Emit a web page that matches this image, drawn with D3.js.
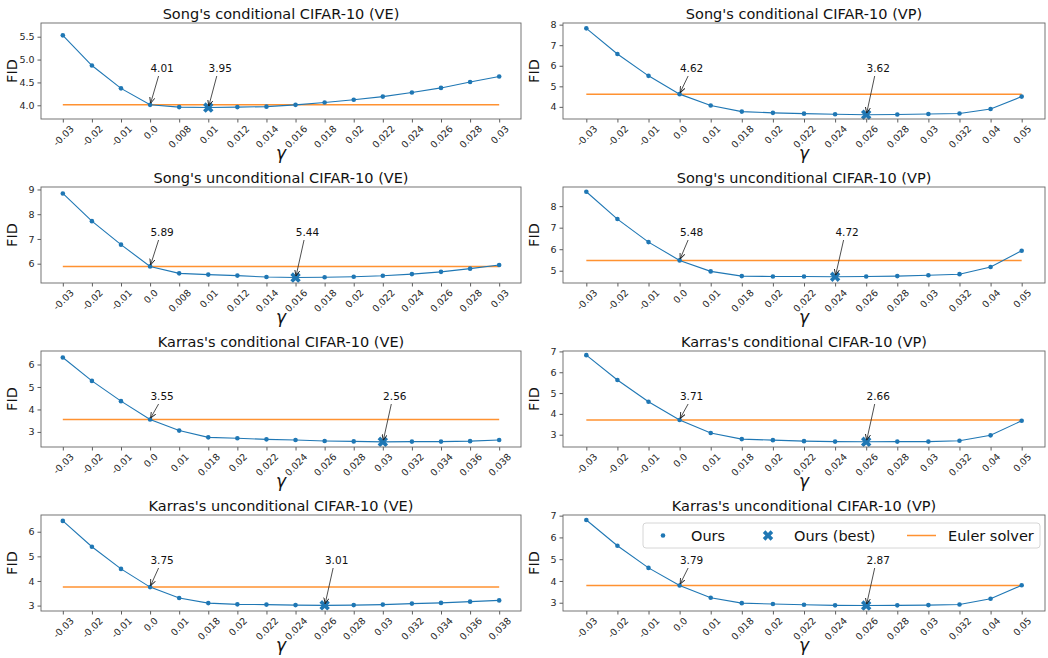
<!DOCTYPE html>
<html>
<head>
<meta charset="utf-8">
<script src="https://cdn.jsdelivr.net/npm/d3@7"></script>
<style>
    body { margin: 0; background: #fff; }
    text { font-family: "DejaVu Sans", sans-serif; }
</style>
</head>
<body>
<svg id="chart" width="1048" height="658"></svg>
<script>
// gamma values on the x axis (categorical)
var gammaSongVE = ['-0.03', '-0.02', '-0.01', '0.0', '0.008', '0.01', '0.012', '0.014', '0.016', '0.018', '0.02', '0.022', '0.024', '0.026', '0.028', '0.03'];
var gammaVP = ['-0.03', '-0.02', '-0.01', '0.0', '0.01', '0.018', '0.02', '0.022', '0.024', '0.026', '0.028', '0.03', '0.032', '0.04', '0.05'];
var gammaKarrasVE = ['-0.03', '-0.02', '-0.01', '0.0', '0.01', '0.018', '0.02', '0.022', '0.024', '0.026', '0.028', '0.03', '0.032', '0.034', '0.036', '0.038'];

// FID values ("Ours")
var fidSongCondVE = [5.53, 4.87, 4.37, 4.01, 3.96, 3.95, 3.96, 3.97, 4.01, 4.06, 4.12, 4.19, 4.28, 4.38, 4.51, 4.63];
var fidSongCondVP = [7.82, 6.57, 5.51, 4.62, 4.07, 3.77, 3.71, 3.67, 3.64, 3.62, 3.63, 3.65, 3.68, 3.90, 4.50];
var fidSongUncondVE = [8.84, 7.72, 6.77, 5.89, 5.61, 5.56, 5.52, 5.46, 5.44, 5.45, 5.47, 5.51, 5.58, 5.67, 5.80, 5.95];
var fidSongUncondVP = [8.67, 7.40, 6.33, 5.48, 4.97, 4.75, 4.73, 4.73, 4.72, 4.73, 4.75, 4.79, 4.84, 5.17, 5.93];
var fidKarrasCondVE = [6.31, 5.27, 4.37, 3.55, 3.06, 2.76, 2.72, 2.67, 2.64, 2.60, 2.58, 2.56, 2.57, 2.57, 2.59, 2.64];
var fidKarrasCondVP = [6.82, 5.63, 4.58, 3.71, 3.08, 2.79, 2.74, 2.69, 2.67, 2.66, 2.67, 2.67, 2.71, 2.97, 3.67];
var fidKarrasUncondVE = [6.44, 5.39, 4.49, 3.75, 3.31, 3.10, 3.05, 3.04, 3.02, 3.01, 3.02, 3.04, 3.08, 3.11, 3.16, 3.21];
var fidKarrasUncondVP = [6.80, 5.62, 4.60, 3.79, 3.23, 2.98, 2.94, 2.91, 2.88, 2.87, 2.88, 2.89, 2.92, 3.18, 3.80];

var titles = ["Song's conditional CIFAR-10 (VE)", "Song's conditional CIFAR-10 (VP)",
    "Song's unconditional CIFAR-10 (VE)", "Song's unconditional CIFAR-10 (VP)",
    "Karras's conditional CIFAR-10 (VE)", "Karras's conditional CIFAR-10 (VP)",
    "Karras's unconditional CIFAR-10 (VE)", "Karras's unconditional CIFAR-10 (VP)"];

var eulerFID = [4.01, 4.62, 5.89, 5.48, 3.55, 3.71, 3.75, 3.79];
var bestGamma = ['0.01', '0.026', '0.016', '0.024', '0.03', '0.026', '0.026', '0.026'];
var bestFID = [3.95, 3.62, 5.44, 4.72, 2.56, 2.66, 3.01, 2.87];

var yTicks = [[4.0, 4.5, 5.0, 5.5], [4, 5, 6, 7, 8], [6, 7, 8, 9], [5, 6, 7, 8],
    [3, 4, 5, 6], [3, 4, 5, 6, 7], [3, 4, 5, 6], [3, 4, 5, 6, 7]];
var yDomains = [[3.7, 5.8], [3.41, 8.08], [5.22, 9.1], [4.43, 8.89],
    [2.33, 6.6], [2.41, 7.02], [2.78, 6.68], [2.62, 7.03]];

var gammas = [gammaSongVE, gammaVP, gammaSongVE, gammaVP, gammaKarrasVE, gammaVP, gammaKarrasVE, gammaVP];
var fids = [fidSongCondVE, fidSongCondVP, fidSongUncondVE, fidSongUncondVP,
    fidKarrasCondVE, fidKarrasCondVP, fidKarrasUncondVE, fidKarrasUncondVP];

var blue = '#1f77b4', orange = '#ff7f0e';
var colLeft = [41, 563], colWidth = [480, 482];
var rowTop = [23, 187, 351, 515], axH = 96;
var tickFont = 9.5;

var svg = d3.select('#chart');

svg.append('defs').append('marker')
    .attr('id', 'arrow')
    .attr('viewBox', '0 0 6 6')
    .attr('refX', 6).attr('refY', 3)
    .attr('markerWidth', 6).attr('markerHeight', 6)
    .attr('markerUnits', 'userSpaceOnUse')
    .attr('orient', 'auto')
    .append('path')
    .attr('d', 'M0,0.4 L6,3 L0,5.6')
    .style('fill', 'none').style('stroke', '#222').style('stroke-width', 0.9);

var xMark = d3.symbol().type(d3.symbolCross).size(68);

titles.forEach(function(title, i) {
    var col = i % 2, row = Math.floor(i / 2);
    var w = colWidth[col];
    var g = svg.append('g').attr('transform', 'translate(' + colLeft[col] + ',' + rowTop[row] + ')');

    var x = d3.scalePoint().domain(gammas[i]).range([0, w]).padding(0.75);
    var y = d3.scaleLinear().domain(yDomains[i]).range([axH, 0]);
    var data = gammas[i].map(function(gm, k) { return {g: gm, v: fids[i][k]}; });

    // axes
    var yAxis = g.append('g')
        .call(d3.axisLeft(y).tickValues(yTicks[i]).tickSize(3.5).tickPadding(3)
            .tickFormat(i === 0 ? d3.format('.1f') : d3.format('d')));
    var xAxis = g.append('g').attr('transform', 'translate(0,' + axH + ')')
        .call(d3.axisBottom(x).tickSize(3.5));
    [xAxis, yAxis].forEach(function(a) {
        a.select('.domain').remove();
        a.selectAll('line').style('stroke', '#333').style('stroke-width', 0.8);
        a.selectAll('text').style('font-size', tickFont + 'px').style('fill', '#262626')
            .style('font-family', '"DejaVu Sans", sans-serif');
    });
    xAxis.selectAll('text').each(function() {
        var t = d3.select(this);
        var tw = this.getComputedTextLength();
        var cy = 5.5 + (tw + 0.73 * tickFont) * 0.3536;
        t.attr('y', null).attr('dy', null)
            .attr('dominant-baseline', 'central')
            .attr('text-anchor', 'middle')
            .attr('transform', 'translate(0,' + cy + ') rotate(-45)');
    });

    // euler solver line
    g.append('line')
        .attr('x1', x(gammas[i][0])).attr('x2', x(gammas[i][gammas[i].length - 1]))
        .attr('y1', y(eulerFID[i])).attr('y2', y(eulerFID[i]))
        .style('stroke', orange).style('stroke-width', 1.5).style('opacity', 0.85);

    // ours
    g.append('path').datum(data)
        .attr('d', d3.line().x(function(d) { return x(d.g); }).y(function(d) { return y(d.v); }))
        .style('fill', 'none').style('stroke', blue).style('stroke-width', 1.1);
    g.selectAll('circle').data(data).enter().append('circle')
        .attr('cx', function(d) { return x(d.g); })
        .attr('cy', function(d) { return y(d.v); })
        .attr('r', 2.3).style('fill', blue);

    // best
    g.append('path')
        .attr('d', xMark)
        .attr('transform', 'translate(' + x(bestGamma[i]) + ',' + y(bestFID[i]) + ') rotate(45)')
        .style('fill', blue);

    // annotations
    function annotate(gm, v) {
        var px = x(gm), py = y(v);
        g.append('text')
            .attr('x', px + 12).attr('y', 49)
            .attr('text-anchor', 'middle')
            .style('font-size', '10.5px').style('fill', '#111')
            .text(v.toFixed(2));
        g.append('line')
            .attr('x1', px + 8.5).attr('y1', 53)
            .attr('x2', px + 0.5).attr('y2', py - 1.5)
            .attr('marker-end', 'url(#arrow)')
            .style('stroke', '#222').style('stroke-width', 0.8);
    }
    annotate('0.0', eulerFID[i]);
    annotate(bestGamma[i], bestFID[i]);

    // frame
    g.append('rect').attr('width', w).attr('height', axH)
        .style('fill', 'none').style('stroke', '#666').style('stroke-width', 0.9);

    // labels
    g.append('text')
        .attr('x', w / 2).attr('y', -4)
        .attr('text-anchor', 'middle')
        .style('font-size', '14.5px').style('fill', '#111')
        .text(title);
    g.append('text')
        .attr('transform', 'translate(-29,' + (axH / 2) + ') rotate(-90)')
        .attr('text-anchor', 'middle').attr('dominant-baseline', 'central')
        .style('font-size', '14.5px').style('fill', '#111')
        .text('FID');
    g.append('text')
        .attr('x', w / 2).attr('y', axH + 40)
        .attr('text-anchor', 'middle')
        .style('font-size', '17px').style('font-style', 'italic').style('fill', '#111')
        .text('γ');

    // legend only on the last panel
    if (i === 7) {
        var lg = g.append('g').attr('transform', 'translate(80,8)');
        lg.append('rect').attr('width', 397).attr('height', 25).attr('rx', 3)
            .style('fill', '#fff').style('fill-opacity', 0.8)
            .style('stroke', '#ccc').style('stroke-width', 0.8);
        lg.append('circle').attr('cx', 20).attr('cy', 12.5).attr('r', 2.3).style('fill', blue);
        lg.append('path').attr('d', xMark)
            .attr('transform', 'translate(125,12.5) rotate(45)').style('fill', blue);
        lg.append('line').attr('x1', 264).attr('x2', 293).attr('y1', 12.5).attr('y2', 12.5)
            .style('stroke', orange).style('stroke-width', 1.5).style('opacity', 0.85);
        var items = [['Ours', 48], ['Ours (best)', 151], ['Euler solver', 305]];
        items.forEach(function(it) {
            lg.append('text').attr('x', it[1]).attr('y', 17.5)
                .style('font-size', '14.5px').style('fill', '#111').text(it[0]);
        });
    }
});
</script>
</body>
</html>
